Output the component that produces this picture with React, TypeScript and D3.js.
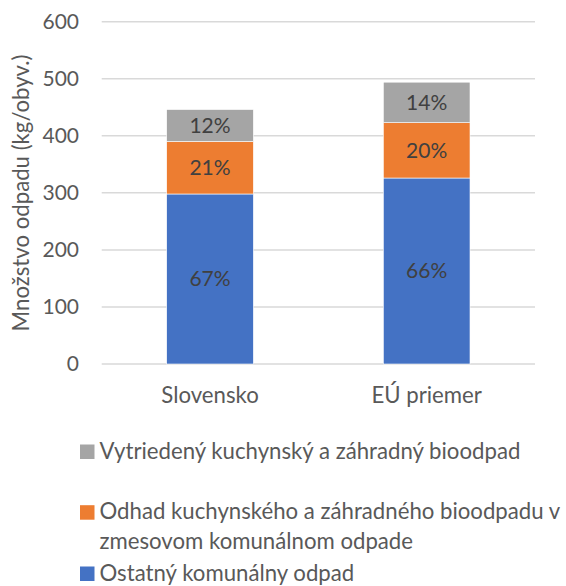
import React from "react";
import * as d3 from "d3";

const categories = ["Slovensko", "EÚ priemer"];
const seriesNames = [
  "Ostatný komunálny odpad",
  "Odhad kuchynského a záhradného bioodpadu v zmesovom komunálnom odpade",
  "Vytriedený kuchynský a záhradný bioodpad",
];
const ostatny = [298, 326];
const odhad = [92, 97];
const vytriedeny = [56, 71];
const percentLabels = [
  ["67%", "66%"],
  ["21%", "20%"],
  ["12%", "14%"],
];
const colors = ["#4472C4", "#ED7D31", "#A5A5A5"];
const yTicks = [0, 100, 200, 300, 400, 500, 600];
const legendOrder = [2, 1, 0];
const legendLines = [
  ["Ostatný komunálny odpad"],
  ["Odhad kuchynského a záhradného bioodpadu v", "zmesovom komunálnom odpade"],
  ["Vytriedený kuchynský a záhradný bioodpad"],
];

const W = 566;
const H = 586;
const FONT = "Lato, 'Open Sans', sans-serif";
const FS_NUM = 21;
const FS_TXT = 22.2;

export default function App() {
  const x = d3
    .scaleBand<string>()
    .domain(categories)
    .range([101.7, 535])
    .paddingInner(0.6)
    .paddingOuter(0.3);
  const y = d3.scaleLinear().domain([0, 600]).range([364, 21.7]);

  const rows = categories.map((c, i) => ({
    cat: c,
    s0: ostatny[i],
    s1: odhad[i],
    s2: vytriedeny[i],
  }));
  const stack = d3.stack<any>().keys(["s0", "s1", "s2"]);
  const series = stack(rows);

  const legendTop = [458.7, 519.4, 580.7];
  const lineGap = 29.6;

  return (
    <svg
      width={W}
      height={H}
      style={{ position: "absolute", left: 0, top: 0, background: "#fff" }}
      fontFamily={FONT}
    >
      <rect width={W} height={H} fill="#fff" />
      {yTicks.map((t) => (
        <g key={t}>
          <line
            x1={101.7}
            x2={535}
            y1={y(t)}
            y2={y(t)}
            stroke="#d9d9d9"
            strokeWidth={1.5}
          />
          <text
            x={79}
            y={y(t) + 7.3}
            textAnchor="end"
            fontSize={FS_NUM}
            fill="#595959"
          >
            {t}
          </text>
        </g>
      ))}
      {series.map((s, si) => (
        <g key={si}>
          {s.map((d, i) => (
            <g key={i}>
              <rect
                x={x(categories[i])}
                width={x.bandwidth()}
                y={y(d[1])}
                height={y(d[0]) - y(d[1])}
                fill={colors[si]}
                stroke="#ffffff"
                strokeWidth={0.6}
              />
              <text
                x={(x(categories[i]) as number) + x.bandwidth() / 2}
                y={(y(d[0]) + y(d[1])) / 2 + 7.3}
                textAnchor="middle"
                fontSize={FS_NUM}
                fill="#404040"
              >
                {percentLabels[si][i]}
              </text>
            </g>
          ))}
        </g>
      ))}
      {categories.map((c) => (
        <text
          key={c}
          x={(x(c) as number) + x.bandwidth() / 2}
          y={403}
          textAnchor="middle"
          fontSize={FS_TXT}
          fill="#595959"
        >
          {c}
        </text>
      ))}
      <text
        transform={`translate(28.5,193) rotate(-90)`}
        textAnchor="middle"
        fontSize={FS_TXT}
        fill="#595959"
      >
        Množstvo odpadu (kg/obyv.)
      </text>
      {legendOrder.map((si, k) => (
        <g key={si}>
          <rect
            x={80}
            y={legendTop[k] - 14.2}
            width={14.5}
            height={14.5}
            fill={colors[si]}
          />
          {legendLines[si].map((ln, li) => (
            <text
              key={li}
              x={99.5}
              y={legendTop[k] + li * lineGap}
              fontSize={FS_TXT}
              fill="#595959"
            >
              {ln}
            </text>
          ))}
        </g>
      ))}
    </svg>
  );
}
